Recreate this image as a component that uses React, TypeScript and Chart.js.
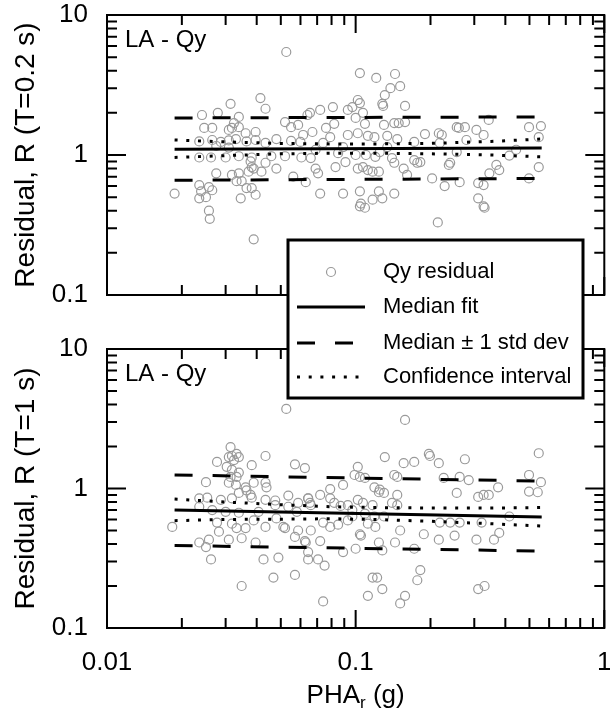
import React, { useEffect, useRef } from 'react';
import { Chart, registerables } from 'chart.js';
Chart.register(...registerables);

const FONT = '"Liberation Sans", Arial, Helvetica, sans-serif';

// ---- axis ticks ----
const xTickLabels = [0.01, 0.1, 1];
const yTickLabels = [0.1, 1, 10];
const xMinorTicks = [0.02, 0.03, 0.04, 0.05, 0.06, 0.07, 0.08, 0.09, 0.2, 0.3, 0.4, 0.5, 0.6, 0.7, 0.8, 0.9];
const yMinorTicks = [0.2, 0.3, 0.4, 0.5, 0.6, 0.7, 0.8, 0.9, 2, 3, 4, 5, 6, 7, 8, 9];

// ---- texts ----
const panelLabel = 'LA - Qy';
const topTitle = 'Residual, R (T=0.2 s)';
const bottomTitle = 'Residual, R (T=1 s)';
const legendLabels = ['Qy residual', 'Median fit', 'Median \u00b1 1 std dev', 'Confidence interval'];

// ---- fitted lines ----
const fitX = [0.0187, 0.56];
const topMedian = [1.10, 1.12];
const topStdUpper = [1.84, 1.87];
const topStdLower = [0.66, 0.68];
const botMedian = [0.70, 0.625];
const botStdUpper = [1.25, 1.13];
const botStdLower = [0.39, 0.356];

const ciX = [0.0187, 0.03, 0.05, 0.08, 0.12, 0.2, 0.35, 0.56];
const topCiUpper = [1.28, 1.24, 1.21, 1.2, 1.2, 1.21, 1.25, 1.3];
const topCiLower = [0.96, 0.99, 1.02, 1.03, 1.03, 1.02, 1.0, 0.97];
const botCiUpper = [0.84, 0.8, 0.765, 0.74, 0.73, 0.725, 0.724, 0.73];
const botCiLower = [0.588, 0.6, 0.603, 0.607, 0.599, 0.582, 0.559, 0.538];

// ---- residuals, T = 0.2 s ----
const topX = [
  0.0526, 0.0414, 0.0434, 0.0314, 0.0279, 0.0241, 0.0339, 0.0324, 0.0318, 0.0309,
  0.0339, 0.0246, 0.0265, 0.0396, 0.0361, 0.052, 0.055, 0.0587, 0.0655, 0.0235,
  0.0265, 0.0287, 0.0309, 0.033, 0.0364, 0.0396, 0.0434, 0.048, 0.055, 0.06,
  0.0275, 0.0309, 0.0235, 0.0262, 0.03, 0.0339, 0.0382, 0.0458, 0.052, 0.0605,
  0.066, 0.0378, 0.0382, 0.0434, 0.048, 0.0389, 0.0371, 0.0418, 0.0275, 0.0318,
  0.0339, 0.0332, 0.0348, 0.0561, 0.063, 0.0235, 0.0257, 0.0239, 0.0265, 0.0364,
  0.0382, 0.0396, 0.0345, 0.0235, 0.025, 0.0187, 0.0257, 0.0259, 0.0389,
  0.104, 0.121, 0.144, 0.151, 0.138, 0.131, 0.128, 0.129, 0.158, 0.102,
  0.104, 0.097, 0.093, 0.107, 0.081, 0.072, 0.064, 0.109, 0.1, 0.13,
  0.143, 0.149, 0.158, 0.076, 0.082, 0.067, 0.0615, 0.093, 0.102, 0.112,
  0.119, 0.134, 0.147, 0.172, 0.19, 0.216, 0.222, 0.255, 0.275, 0.26,
  0.306, 0.327, 0.343, 0.498, 0.556, 0.545, 0.074, 0.079, 0.085, 0.091,
  0.1, 0.11, 0.12, 0.125, 0.172, 0.177, 0.182, 0.237, 0.24, 0.218,
  0.255, 0.415, 0.069, 0.083, 0.102, 0.107, 0.112, 0.117, 0.124, 0.143,
  0.156, 0.161, 0.203, 0.228, 0.262, 0.311, 0.327, 0.345, 0.368, 0.378,
  0.545, 0.498, 0.072, 0.089, 0.104, 0.124, 0.143, 0.105, 0.109, 0.104,
  0.117, 0.128, 0.311, 0.327, 0.33, 0.214, 0.0706, 0.069, 0.089, 0.134,
  0.279, 0.442, 0.14,
];
const topY = [
  5.44, 2.55, 2.14, 2.32, 2.0, 1.93, 1.87, 1.69, 1.56, 1.51,
  1.58, 1.56, 1.56, 1.46, 1.43, 1.72, 1.58, 1.64, 2.0, 1.25,
  1.28, 1.24, 1.27, 1.3, 1.25, 1.28, 1.22, 1.3, 1.26, 1.24,
  1.16, 1.13, 0.96, 0.96, 0.96, 0.98, 0.96, 0.98, 0.98, 0.96,
  0.95, 0.9, 0.82, 0.88, 0.8, 0.8, 0.76, 0.76, 0.74, 0.72,
  0.74, 0.65, 0.65, 0.7, 0.64, 0.61, 0.59, 0.55, 0.56, 0.58,
  0.58, 0.52, 0.49, 0.49, 0.5, 0.53, 0.4, 0.35, 0.25,
  3.85, 3.55, 3.79, 3.1, 3.0, 2.68, 2.32, 2.24, 2.24, 2.47,
  2.35, 2.2, 2.1, 2.0, 2.2, 2.1, 1.93, 1.67, 1.84, 1.64,
  1.69, 1.69, 1.72, 1.56, 1.67, 1.46, 1.39, 1.39, 1.43, 1.37,
  1.34, 1.37, 1.3, 1.24, 1.41, 1.43, 1.39, 1.58, 1.58, 1.56,
  1.51, 1.39, 1.78, 1.58, 1.61, 1.34, 1.22, 1.34, 1.03, 0.89,
  1.0, 1.0, 0.97, 1.05, 0.92, 0.88, 0.89, 0.85, 0.88, 1.22,
  1.05, 0.99, 0.8, 0.82, 0.8, 0.82, 0.78, 0.76, 0.76, 0.88,
  0.8, 0.72, 0.68, 0.6, 0.64, 0.63, 0.61, 0.74, 0.85, 0.78,
  0.82, 0.68, 0.53, 0.53, 0.55, 0.55, 0.53, 0.45, 0.42, 0.43,
  0.48, 0.49, 0.49, 0.43, 0.42, 0.33, 0.74, 1.09, 1.14, 1.14,
  1.28, 1.09, 0.95,
];

// ---- residuals, T = 1 s ----
const botX = [
  0.0526, 0.0314, 0.0332, 0.0318, 0.0309, 0.0339, 0.0324, 0.0277, 0.0434, 0.0382,
  0.057, 0.0625, 0.0303, 0.0318, 0.0339, 0.025, 0.0314, 0.0332, 0.0309, 0.033,
  0.0361, 0.0389, 0.0434, 0.0438, 0.0339, 0.0378, 0.0364, 0.0235, 0.0253, 0.0287,
  0.0318, 0.0382, 0.0434, 0.0475, 0.0536, 0.0587, 0.0644, 0.0235, 0.0265, 0.03,
  0.0339, 0.0407, 0.0475, 0.0536, 0.058, 0.066, 0.0277, 0.0318, 0.0332, 0.0361,
  0.0389, 0.0434, 0.048, 0.0512, 0.052, 0.0183, 0.0235, 0.0257, 0.0282, 0.0309,
  0.0348, 0.0396, 0.025, 0.0426, 0.0489, 0.057, 0.063, 0.0644, 0.0262, 0.0467,
  0.057, 0.0348, 0.158, 0.131, 0.156, 0.172, 0.197, 0.199, 0.216, 0.275,
  0.545, 0.102, 0.104, 0.109, 0.099, 0.089, 0.079, 0.143, 0.147, 0.119,
  0.125, 0.124, 0.13, 0.147, 0.226, 0.262, 0.285, 0.255, 0.311, 0.327,
  0.343, 0.374, 0.498, 0.556, 0.498, 0.54, 0.0644, 0.072, 0.079, 0.093,
  0.102, 0.107, 0.117, 0.14, 0.147, 0.0655, 0.082, 0.087, 0.097, 0.119,
  0.13, 0.109, 0.0587, 0.066, 0.074, 0.079, 0.085, 0.093, 0.097, 0.0625,
  0.072, 0.089, 0.1, 0.112, 0.12, 0.124, 0.128, 0.144, 0.151, 0.172,
  0.188, 0.216, 0.218, 0.24, 0.25, 0.262, 0.306, 0.321, 0.36, 0.378,
  0.415, 0.104, 0.105, 0.0644, 0.0706, 0.075, 0.117, 0.122, 0.128, 0.177,
  0.182, 0.112, 0.151, 0.158, 0.074, 0.311, 0.33,
];
const botY = [
  3.72, 1.98, 1.77, 1.71, 1.68, 1.68, 1.6, 1.55, 1.71, 1.47,
  1.49, 1.4, 1.43, 1.36, 1.3, 1.11, 1.21, 1.21, 1.1, 1.06,
  1.02, 1.1, 1.1, 1.02, 0.93, 0.9, 0.97, 0.85, 0.86, 0.83,
  0.85, 0.86, 0.83, 0.82, 0.89, 0.79, 0.85, 0.74, 0.7, 0.68,
  0.67, 0.68, 0.76, 0.74, 0.68, 0.76, 0.57, 0.56, 0.52, 0.52,
  0.59, 0.53, 0.61, 0.53, 0.52, 0.53, 0.41, 0.43, 0.49, 0.43,
  0.44, 0.41, 0.38, 0.31, 0.32, 0.45, 0.41, 0.31, 0.31, 0.23,
  0.24, 0.2, 3.1, 1.68, 1.52, 1.55, 1.77, 1.71, 1.52, 1.62,
  1.79, 1.43, 1.21, 1.19, 1.25, 1.06, 0.99, 1.25, 1.21, 1.02,
  0.98, 0.94, 0.93, 0.9, 1.19, 1.21, 1.15, 0.93, 0.87, 0.9,
  0.9, 1.02, 1.25, 1.11, 0.95, 0.94, 0.85, 0.9, 0.85, 0.76,
  0.83, 0.79, 0.76, 0.79, 0.76, 0.79, 0.79, 0.75, 0.7, 0.63,
  0.63, 0.66, 0.5, 0.5, 0.57, 0.53, 0.55, 0.59, 0.63, 0.42,
  0.42, 0.35, 0.37, 0.56, 0.53, 0.41, 0.36, 0.41, 0.5, 0.37,
  0.47, 0.43, 0.57, 0.57, 0.46, 0.57, 0.43, 0.57, 0.43, 0.48,
  0.63, 0.47, 0.46, 0.35, 0.31, 0.28, 0.23, 0.23, 0.19, 0.22,
  0.26, 0.17, 0.15, 0.17, 0.155, 0.19, 0.2,
];

const POINT_GRAY = '#9a9a9a';

const pts = (xs: number[], ys: number[]) => xs.map((x, i) => ({ x, y: ys[i] }));

const framePlugin = {
  id: 'frameTicks',
  afterDatasetsDraw(chart: any) {
    const { ctx, chartArea } = chart;
    const { left, right, top, bottom } = chartArea;
    const xs = chart.scales.x;
    const ys = chart.scales.y;
    ctx.save();
    ctx.strokeStyle = '#000';
    ctx.lineWidth = 2;
    ctx.strokeRect(left, top, right - left, bottom - top);
    const drawX = (v: number, len: number) => {
      const p = xs.getPixelForValue(v);
      ctx.beginPath();
      ctx.moveTo(p, bottom); ctx.lineTo(p, bottom - len);
      ctx.moveTo(p, top); ctx.lineTo(p, top + len);
      ctx.stroke();
    };
    const drawY = (v: number, len: number) => {
      const p = ys.getPixelForValue(v);
      ctx.beginPath();
      ctx.moveTo(left, p); ctx.lineTo(left + len, p);
      ctx.moveTo(right, p); ctx.lineTo(right - len, p);
      ctx.stroke();
    };
    xTickLabels.forEach((v) => drawX(v, 18));
    xMinorTicks.forEach((v) => drawX(v, 10));
    yTickLabels.forEach((v) => drawY(v, 19));
    yMinorTicks.forEach((v) => drawY(v, 10));
    ctx.fillStyle = '#000';
    ctx.font = `24px ${FONT}`;
    ctx.textAlign = 'left';
    ctx.textBaseline = 'alphabetic';
    ctx.fillText(panelLabel, left + 18, top + 32);
    ctx.restore();
  },
};

const bottomExtrasPlugin = {
  id: 'bottomExtras',
  afterDraw(chart: any) {
    const { ctx, chartArea } = chart;
    ctx.save();
    // x-axis title with subscript
    const cx = (chartArea.left + chartArea.right) / 2;
    const base = 703;
    ctx.fillStyle = '#000';
    ctx.textBaseline = 'alphabetic';
    ctx.textAlign = 'left';
    ctx.font = `26px ${FONT}`;
    const w1 = ctx.measureText('PHA').width;
    const w3 = ctx.measureText(' (g)').width;
    ctx.font = `17px ${FONT}`;
    const w2 = ctx.measureText('r').width;
    let x0 = cx - (w1 + w2 + w3) / 2;
    ctx.font = `26px ${FONT}`;
    ctx.fillText('PHA', x0, base);
    ctx.font = `17px ${FONT}`;
    ctx.fillText('r', x0 + w1, base + 5);
    ctx.font = `26px ${FONT}`;
    ctx.fillText(' (g)', x0 + w1 + w2, base);

    // legend box
    const bx = 288, by = 240, bw = 295, bh = 158;
    ctx.fillStyle = '#fff';
    ctx.fillRect(bx, by, bw, bh);
    ctx.strokeStyle = '#000';
    ctx.lineWidth = 3;
    ctx.strokeRect(bx, by, bw, bh);
    const rows = [272, 307, 343, 377];
    // circle
    ctx.beginPath();
    ctx.arc(331, rows[0], 4.5, 0, Math.PI * 2);
    ctx.strokeStyle = POINT_GRAY;
    ctx.lineWidth = 1.2;
    ctx.stroke();
    ctx.strokeStyle = '#000';
    ctx.lineWidth = 3;
    ctx.lineCap = 'butt';
    // solid
    ctx.setLineDash([]);
    ctx.beginPath(); ctx.moveTo(297, rows[1]); ctx.lineTo(365, rows[1]); ctx.stroke();
    // dashed
    ctx.setLineDash([18, 20]);
    ctx.beginPath(); ctx.moveTo(297, rows[2]); ctx.lineTo(353, rows[2]); ctx.stroke();
    // dotted
    ctx.setLineDash([3, 8.7]);
    ctx.beginPath(); ctx.moveTo(297, rows[3]); ctx.lineTo(360, rows[3]); ctx.stroke();
    ctx.setLineDash([]);
    ctx.fillStyle = '#000';
    ctx.font = `22px ${FONT}`;
    ctx.textBaseline = 'middle';
    legendLabels.forEach((t, i) => ctx.fillText(t, 383, rows[i]));
    ctx.restore();
  },
};

function makeConfig(isTop: boolean): any {
  const scatter = isTop ? pts(topX, topY) : pts(botX, botY);
  const med = isTop ? topMedian : botMedian;
  const su = isTop ? topStdUpper : botStdUpper;
  const sl = isTop ? topStdLower : botStdLower;
  const cu = isTop ? topCiUpper : botCiUpper;
  const cl = isTop ? topCiLower : botCiLower;
  const lineDs = (data: any[], dash: number[], order: number) => ({
    data,
    showLine: true,
    borderColor: '#000',
    borderWidth: 3,
    borderDash: dash,
    borderCapStyle: 'butt',
    pointRadius: 0,
    fill: false,
    tension: 0,
    order,
  });
  return {
    type: 'scatter',
    data: {
      datasets: [
        lineDs(pts(fitX, med), [], 1),
        lineDs(pts(fitX, su), [18, 20], 2),
        lineDs(pts(fitX, sl), [18, 20], 2),
        lineDs(pts(ciX, cu), [3, 8.7], 3),
        lineDs(pts(ciX, cl), [3, 8.7], 3),
        {
          data: scatter,
          showLine: false,
          pointRadius: 4.5,
          pointHoverRadius: 4.5,
          pointBorderColor: POINT_GRAY,
          pointBackgroundColor: 'rgba(0,0,0,0)',
          pointBorderWidth: 1.2,
          order: 10,
        },
      ],
    },
    options: {
      animation: false,
      responsive: false,
      devicePixelRatio: 1,
      events: [],
      layout: {
        padding: isTop
          ? { left: 0, top: 15, right: 1, bottom: 419 }
          : { left: 0, top: 349, right: 1, bottom: 0 },
      },
      plugins: { legend: { display: false }, tooltip: { enabled: false } },
      scales: {
        x: {
          type: 'logarithmic',
          min: 0.01,
          max: 1,
          grid: { display: false, drawTicks: false },
          border: { display: false },
          ticks: {
            display: !isTop,
            padding: 19,
            autoSkip: false,
            maxRotation: 0,
            color: '#000',
            font: { family: FONT, size: 26 },
            callback: (v: number) => String(v),
          },
          afterBuildTicks: (s: any) => {
            s.ticks = xTickLabels.map((v) => ({ value: v }));
          },
          afterFit: (s: any) => {
            s.height = isTop ? 0 : 86;
            s.paddingLeft = 0;
            s.paddingRight = 0;
          },
        },
        y: {
          type: 'logarithmic',
          min: 0.1,
          max: 10,
          grid: { display: false, drawTicks: false },
          border: { display: false },
          ticks: {
            padding: 19,
            autoSkip: false,
            color: '#000',
            font: { family: FONT, size: 26 },
            callback: (v: number) => String(v),
          },
          afterBuildTicks: (s: any) => {
            s.ticks = yTickLabels.map((v) => ({ value: v }));
          },
          afterFit: (s: any) => {
            s.width = 107;
            s.paddingTop = 0;
            s.paddingBottom = 0;
          },
          title: {
            display: true,
            text: isTop ? topTitle : bottomTitle,
            color: '#000',
            font: { family: FONT, size: 28 },
            padding: { top: 9, bottom: 0 },
          },
        },
      },
    },
    plugins: isTop ? [framePlugin] : [framePlugin, bottomExtrasPlugin],
  };
}

export default function App() {
  const topRef = useRef<HTMLCanvasElement>(null);
  const botRef = useRef<HTMLCanvasElement>(null);
  useEffect(() => {
    const a = new Chart(topRef.current as HTMLCanvasElement, makeConfig(true));
    const b = new Chart(botRef.current as HTMLCanvasElement, makeConfig(false));
    return () => {
      a.destroy();
      b.destroy();
    };
  }, []);
  const cs: React.CSSProperties = { position: 'absolute', left: 0, top: 0, width: 610, height: 714 };
  return (
    <div style={{ position: 'absolute', left: 0, top: 0, width: 610, height: 714, background: '#fff', overflow: 'hidden' }}>
      <canvas ref={topRef} width={610} height={714} style={cs} />
      <canvas ref={botRef} width={610} height={714} style={cs} />
    </div>
  );
}
